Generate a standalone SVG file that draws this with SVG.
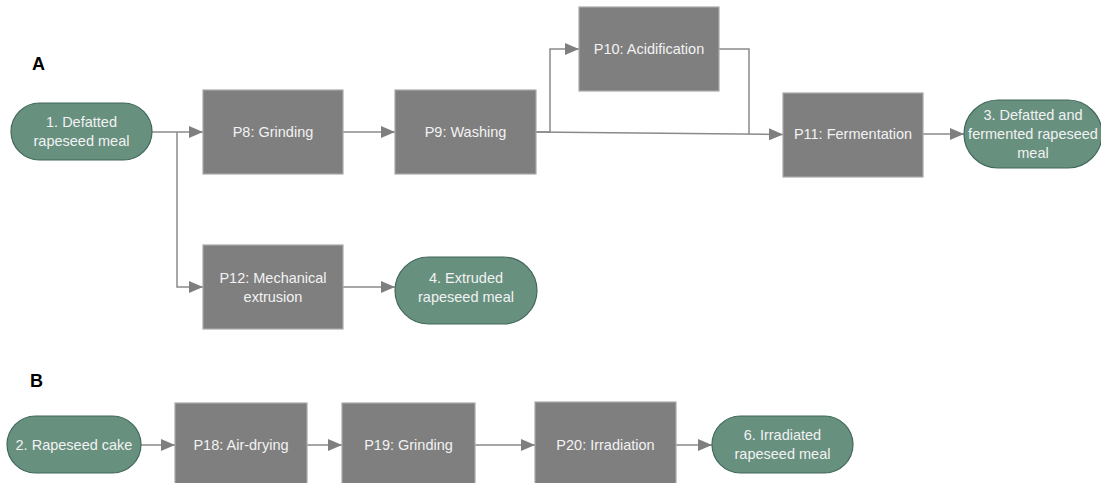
<svg xmlns="http://www.w3.org/2000/svg" width="1101" height="483" viewBox="0 0 1101 483">
  <style>
    .proc { fill: #7f7f7f; stroke: #a9a9a9; stroke-width: 1.2; }
    .term { fill: #67907f; stroke: #41695b; stroke-width: 1.2; }
    .lbl { font-family: "Liberation Sans", Arial, sans-serif; font-size: 14.5px; fill: #f2f2f2; text-anchor: middle; }
    .panel { font-family: "Liberation Sans", Arial, sans-serif; font-size: 18px; font-weight: bold; fill: #000; }
    .wire { fill: none; stroke: #8a8a8a; stroke-width: 1.5; }
  </style>
  <defs>
    <marker id="arr" markerWidth="14" markerHeight="12" refX="14" refY="6" orient="auto" markerUnits="userSpaceOnUse">
      <path d="M0,0 L14,6 L0,12 Z" fill="#7f7f7f"/>
    </marker>
  </defs>
  <rect width="1101" height="483" fill="#ffffff"/>

  <text class="panel" x="32" y="70">A</text>
  <text class="panel" x="30" y="387">B</text>

  <!-- connectors -->
  <g id="connectors">
    <path class="wire" d="M152,132 H203" marker-end="url(#arr)"/>
    <path class="wire" d="M177,132 V287 H203" marker-end="url(#arr)"/>
    <path class="wire" d="M343,132 H395" marker-end="url(#arr)"/>
    <path class="wire" d="M536,132 H550 V49 H579" marker-end="url(#arr)"/>
    <path class="wire" d="M536,132 L783,134.5" marker-end="url(#arr)"/>
    <path class="wire" d="M719,49 H749 V134"/>
    <path class="wire" d="M923,134 H964" marker-end="url(#arr)"/>
    <path class="wire" d="M343,287 H395" marker-end="url(#arr)"/>
    <path class="wire" d="M141,445 H175" marker-end="url(#arr)"/>
    <path class="wire" d="M307,445 H342" marker-end="url(#arr)"/>
    <path class="wire" d="M475,445 H535" marker-end="url(#arr)"/>
    <path class="wire" d="M676,445 H712" marker-end="url(#arr)"/>
  </g>

  <!-- panel A -->
  <g id="n1">
    <rect class="term" x="11" y="103" width="141" height="57" rx="28.5"/>
    <text class="lbl" x="81.5" y="127">1. Defatted</text>
    <text class="lbl" x="81.5" y="146">rapeseed meal</text>
  </g>
  <g id="p8">
    <rect class="proc" x="203" y="90" width="140" height="84"/>
    <text class="lbl" x="273" y="137">P8: Grinding</text>
  </g>
  <g id="p9">
    <rect class="proc" x="395" y="90" width="141" height="84"/>
    <text class="lbl" x="465.5" y="137">P9: Washing</text>
  </g>
  <g id="p10">
    <rect class="proc" x="579" y="7" width="140" height="84"/>
    <text class="lbl" x="649" y="54">P10: Acidification</text>
  </g>
  <g id="p11">
    <rect class="proc" x="783" y="93" width="140" height="84"/>
    <text class="lbl" x="853" y="139">P11: Fermentation</text>
  </g>
  <g id="n3">
    <rect class="term" x="964" y="100" width="138" height="68" rx="34"/>
    <text class="lbl" x="1033" y="120">3. Defatted and</text>
    <text class="lbl" x="1033" y="139">fermented rapeseed</text>
    <text class="lbl" x="1033" y="158">meal</text>
  </g>
  <g id="p12">
    <rect class="proc" x="203" y="245" width="140" height="84"/>
    <text class="lbl" x="273" y="283">P12: Mechanical</text>
    <text class="lbl" x="273" y="302">extrusion</text>
  </g>
  <g id="n4">
    <rect class="term" x="395" y="257" width="142" height="67" rx="33.5"/>
    <text class="lbl" x="466" y="283">4. Extruded</text>
    <text class="lbl" x="466" y="302">rapeseed meal</text>
  </g>

  <!-- panel B -->
  <g id="n2">
    <rect class="term" x="7" y="416" width="134" height="57" rx="28.5"/>
    <text class="lbl" x="74" y="450">2. Rapeseed cake</text>
  </g>
  <g id="p18">
    <rect class="proc" x="175" y="403" width="132" height="84"/>
    <text class="lbl" x="241" y="450">P18: Air-drying</text>
  </g>
  <g id="p19">
    <rect class="proc" x="342" y="403" width="133" height="84"/>
    <text class="lbl" x="408.5" y="450">P19: Grinding</text>
  </g>
  <g id="p20">
    <rect class="proc" x="535" y="402" width="141" height="84"/>
    <text class="lbl" x="605.5" y="450">P20: Irradiation</text>
  </g>
  <g id="n6">
    <rect class="term" x="712" y="416" width="141" height="57" rx="28.5"/>
    <text class="lbl" x="782.5" y="440">6. Irradiated</text>
    <text class="lbl" x="782.5" y="459">rapeseed meal</text>
  </g>
</svg>
